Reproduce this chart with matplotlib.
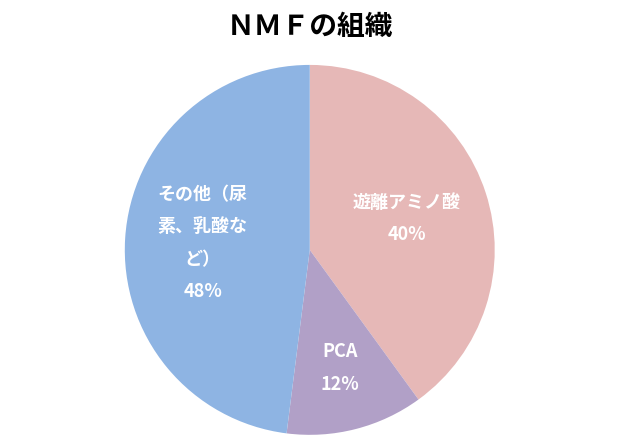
import matplotlib.pyplot as plt
import numpy as np

plt.rcParams['font.family'] = ['Noto Sans CJK JP', 'DejaVu Sans']

labels = ['遊離アミノ酸\n40%', 'PCA\n12%', 'その他（尿\n素、乳酸な\nど）\n48%']
values = [40, 12, 48]
colors = ['#E6B8B7', '#B1A0C7', '#8EB4E3']
dists = [0.55, 0.66, 0.58]

fig = plt.figure(figsize=(6.4, 4.47), dpi=100)
ax = fig.add_axes([0.195, 0.027, 0.578, 0.828])
wedges, _ = ax.pie(values, colors=colors, startangle=90, counterclock=False)
ax.set_xlim(-1, 1)
ax.set_ylim(-1, 1)
ax.set_aspect('equal')

for w, lab, d in zip(wedges, labels, dists):
    ang = np.deg2rad((w.theta1 + w.theta2) / 2)
    ax.text(d * np.cos(ang), d * np.sin(ang), lab, ha='center', va='center',
            color='white', fontsize=13, fontweight='bold', linespacing=1.9)

fig.text(0.484, 0.94, 'ＮＭＦの組織', ha='center', va='center', fontsize=20, fontweight='bold')
fig.savefig('out.png')
